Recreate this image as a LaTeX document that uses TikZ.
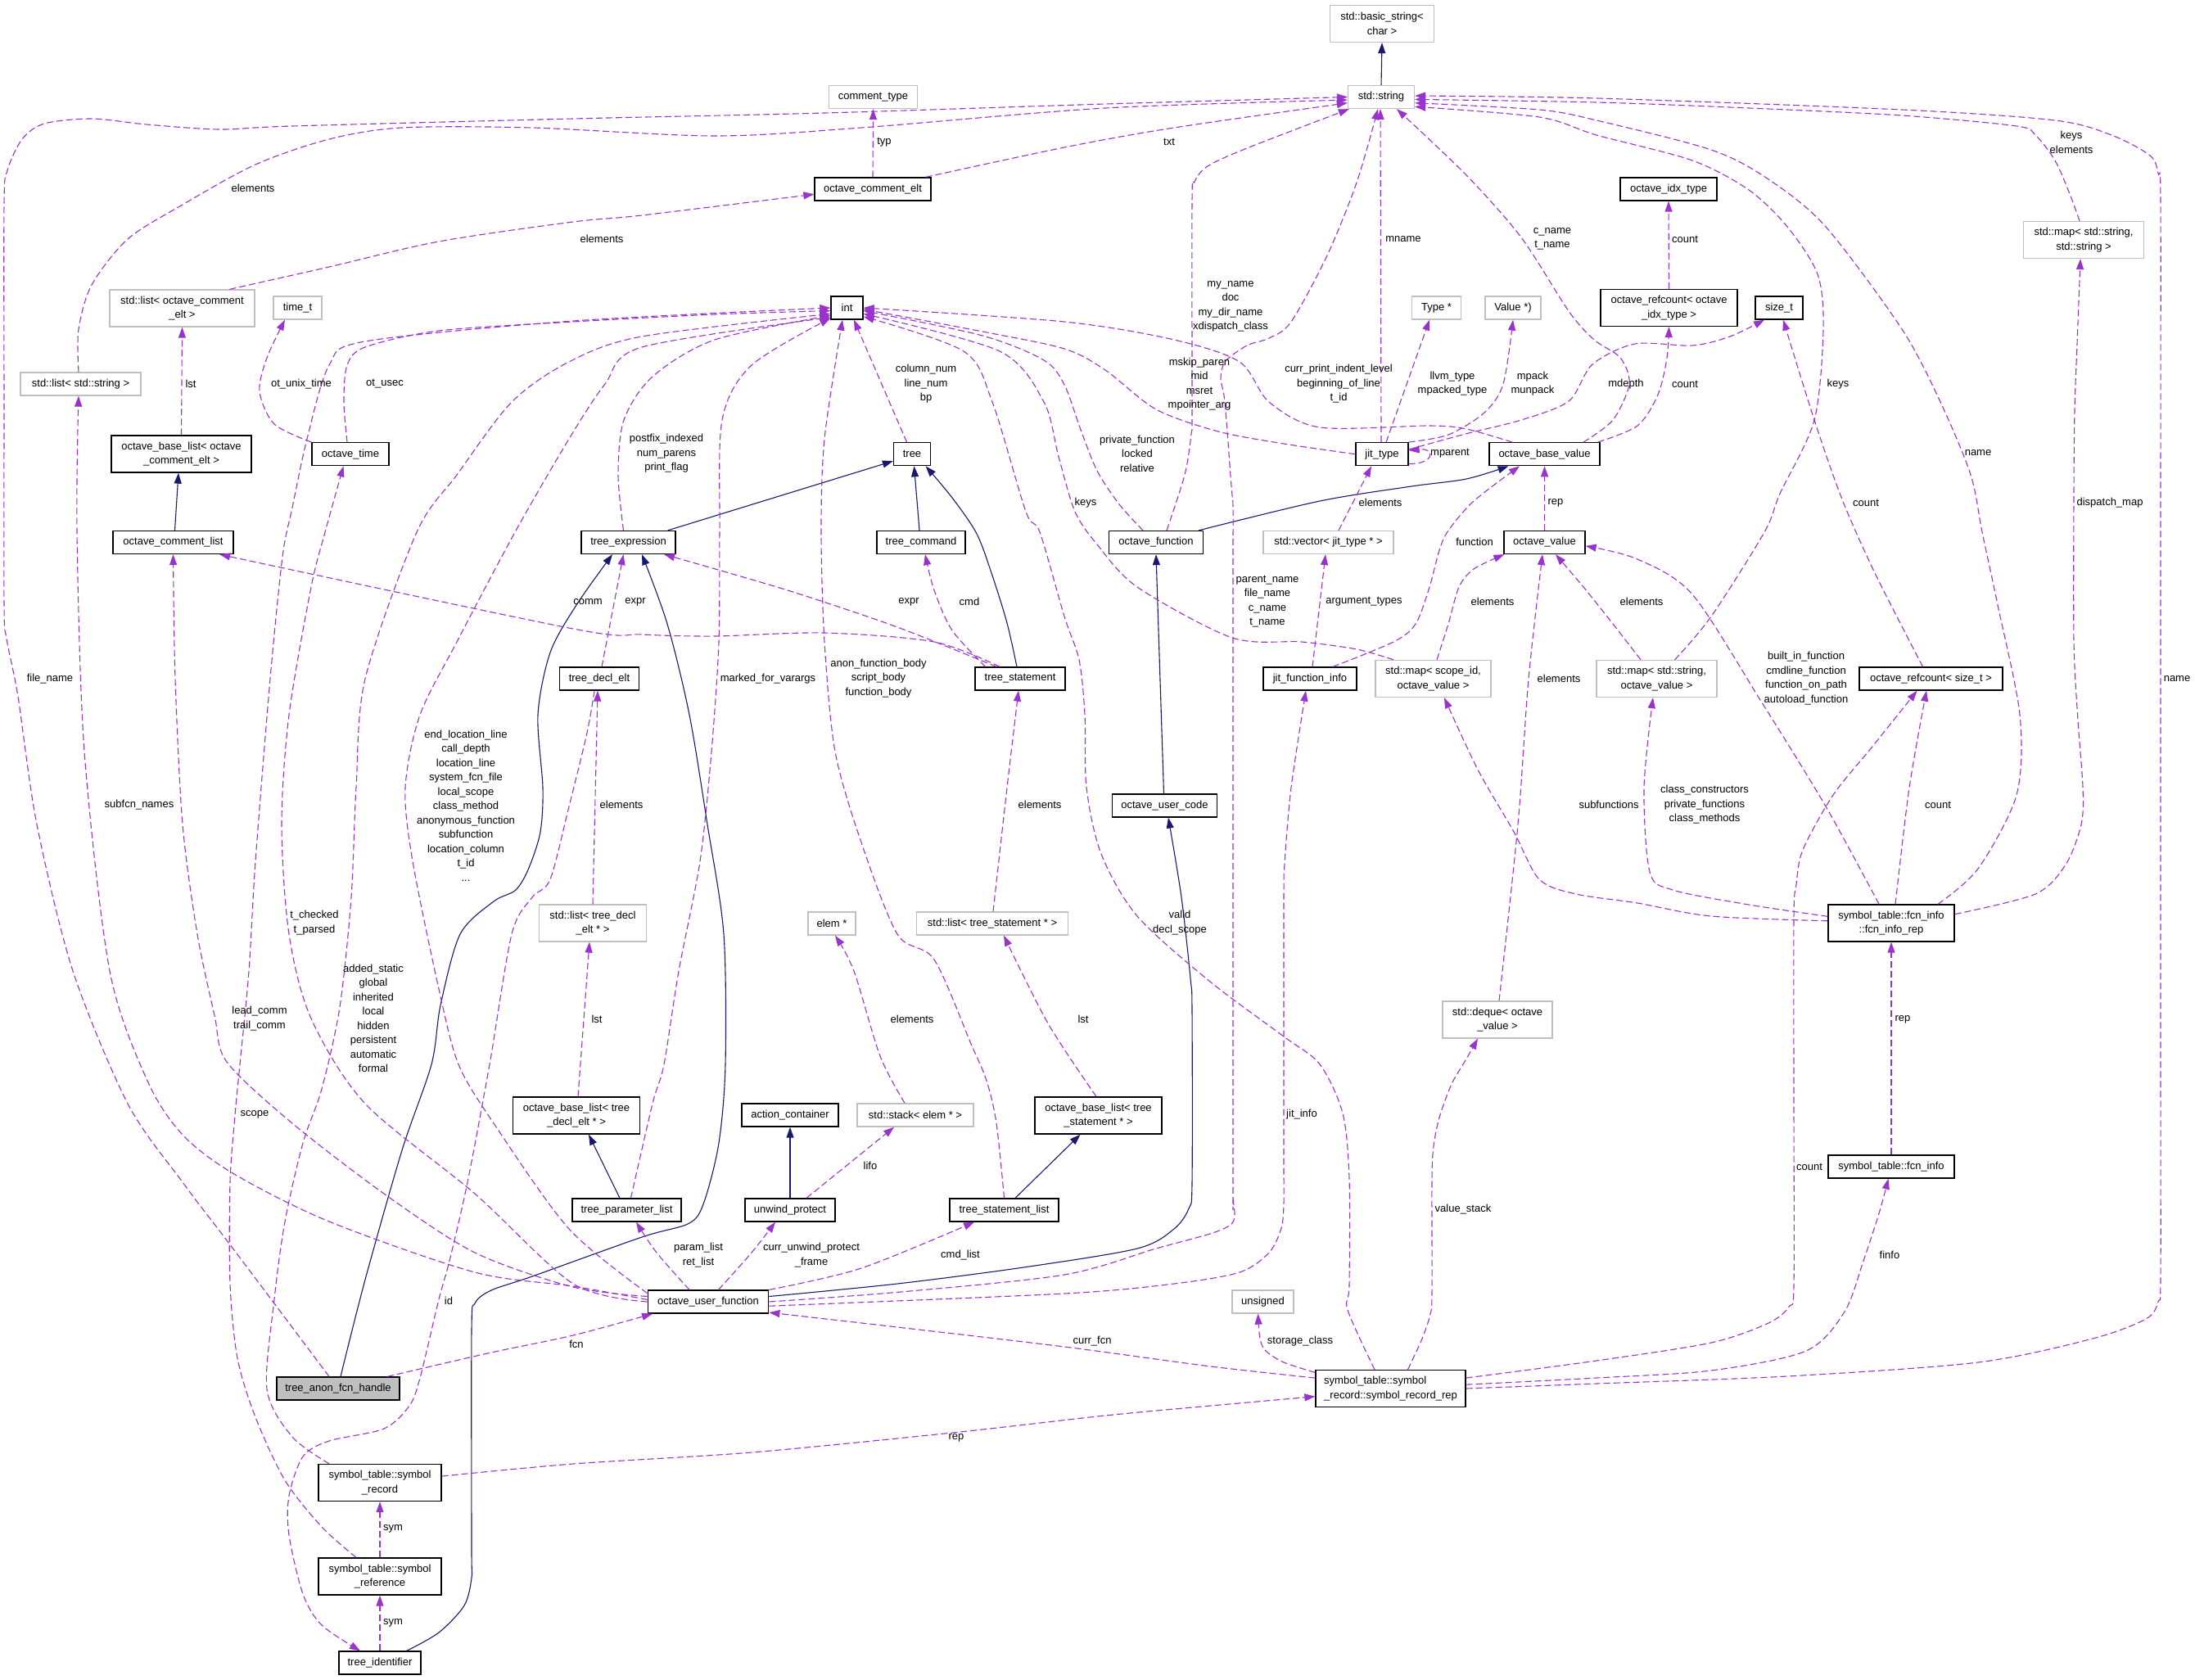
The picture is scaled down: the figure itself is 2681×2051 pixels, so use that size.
\documentclass[tikz,border=0pt]{standalone}
\usepackage{fontspec}
\newfontfamily\dxfont{Liberation Sans}
\usetikzlibrary{arrows.meta}
\definecolor{purp}{HTML}{9A32CD}
\definecolor{navyc}{HTML}{191970}
\definecolor{graybd}{HTML}{BFBFBF}
\newcommand{\dxsize}{\dxfont\fontsize{13}{17.5}\selectfont}
\begin{document}
\begin{tikzpicture}[x=1pt,y=-1pt,
  cls/.style={draw=black,line width=1.3pt,fill=white,inner sep=0pt,font=\dxsize,align=center,minimum height=28pt},
  ext/.style={cls,draw=graybd},
  twol/.style={minimum height=45pt},
  lab/.style={inner sep=0pt,font=\dxsize,align=center},
  dep/.style={draw=purp,line width=1.1pt,dash pattern=on 8pt off 4pt,-{Triangle[length=13pt,width=9pt]}},
  inh/.style={draw=navyc,line width=1.1pt,-{Triangle[length=13pt,width=9pt]}},
  sm/.style={smooth,tension=0.5}]
\fill[white] (0,0) rectangle (2681,2051);
\useasboundingbox (0,0) rectangle (2681,2051);

% ---------------- nodes ----------------
\node[ext,twol,minimum width=127pt] (bstr) at (1688,29) {std::basic\_string<\\char >};
\node[ext,minimum width=81pt] (str) at (1687,118.5) {std::string};
\node[ext,minimum width=108pt] (ctype) at (1066.5,118.5) {comment\_type};
\node[cls,minimum width=142pt] (oce) at (1066,231) {octave\_comment\_elt};
\node[cls,minimum width=118pt] (oidx) at (2038,231) {octave\_idx\_type};
\node[ext,twol,minimum width=147pt] (mapss) at (2545,293) {std::map< std::string,\\std::string >};
\node[ext,twol,minimum width=177pt] (listoce) at (222.5,376.5) {std::list< octave\_comment\\\_elt >};
\node[ext,minimum width=59pt] (timet) at (363.5,376) {time\_t};
\node[cls,minimum width=39pt] (int) at (1034.5,376) {int};
\node[ext,minimum width=60pt] (typeptr) at (1754.5,376) {Type *};
\node[ext,minimum width=68pt] (valueptr) at (1848,376) {Value *)};
\node[cls,twol,minimum width=167pt] (rcidx) at (2038.5,376) {octave\_refcount< octave\\\_idx\_type >};
\node[cls,minimum width=58pt] (sizet) at (2173,376) {size\_t};
\node[ext,minimum width=147pt] (liststr) at (98.5,469) {std::list< std::string >};
\node[cls,twol,minimum width=171pt] (oblce) at (221.5,554.5) {octave\_base\_list< octave\\\_comment\_elt >};
\node[cls,minimum width=94pt] (otime) at (428,554.7) {octave\_time};
\node[cls,minimum width=45pt] (tree) at (1114,554.7) {tree};
\node[cls,minimum width=64pt] (jittype) at (1688,554.7) {jit\_type};
\node[cls,minimum width=135pt] (obv) at (1886.5,554.7) {octave\_base\_value};
\node[cls,minimum width=147pt] (ocl) at (211.5,662.5) {octave\_comment\_list};
\node[cls,minimum width=115pt] (texpr) at (767.5,662.5) {tree\_expression};
\node[cls,minimum width=108pt] (tcmd) at (1125,662.5) {tree\_command};
\node[cls,minimum width=115pt] (ofn) at (1412,662.5) {octave\_function};
\node[ext,minimum width=159pt] (vecjit) at (1622.5,662.5) {std::vector< jit\_type * >};
\node[cls,minimum width=99pt] (oval) at (1886.5,662.5) {octave\_value};
\node[cls,minimum width=97pt] (tdecl) at (732,829) {tree\_decl\_elt};
\node[cls,minimum width=110pt] (tstmt) at (1246,829) {tree\_statement};
\node[cls,minimum width=114pt] (jfi) at (1600,829) {jit\_function\_info};
\node[ext,twol,minimum width=141pt] (mapsid) at (1750.5,829) {std::map< scope\_id,\\octave\_value >};
\node[ext,twol,minimum width=147pt] (mapsov) at (2023.5,829) {std::map< std::string,\\octave\_value >};
\node[cls,minimum width=175pt] (rcsz) at (2358.5,829) {octave\_refcount< size\_t >};
\node[cls,minimum width=128pt] (ouc) at (1422.5,984) {octave\_user\_code};
\node[ext,twol,minimum width=131pt] (listdecl) at (724,1127.5) {std::list< tree\_decl\\\_elt * >};
\node[ext,minimum width=58pt] (elem) at (1016,1128) {elem *};
\node[ext,minimum width=185pt] (liststmt) at (1212,1128) {std::list< tree\_statement * >};
\node[cls,twol,minimum width=154pt] (fir) at (2310,1127.5) {symbol\_table::fcn\_info\\::fcn\_info\_rep};
\node[ext,twol,minimum width=134pt] (deque) at (1829,1245.5) {std::deque< octave\\\_value >};
\node[cls,twol,minimum width=155pt] (obldecl) at (704,1362.5) {octave\_base\_list< tree\\\_decl\_elt * >};
\node[cls,minimum width=118pt] (actc) at (965,1362) {action\_container};
\node[ext,minimum width=142pt] (stack) at (1118,1362) {std::stack< elem * >};
\node[cls,twol,minimum width=155pt] (oblstmt) at (1341.5,1362.5) {octave\_base\_list< tree\\\_statement * >};
\node[cls,minimum width=154pt] (finfo) at (2310,1425) {symbol\_table::fcn\_info};
\node[cls,minimum width=133pt] (tpl) at (765.5,1478) {tree\_parameter\_list};
\node[cls,minimum width=110pt] (unwp) at (965,1478) {unwind\_protect};
\node[cls,minimum width=133pt] (tsl) at (1226.5,1478) {tree\_statement\_list};
\node[cls,minimum width=147.5pt] (ouf) at (865,1590) {octave\_user\_function};
\node[ext,minimum width=75pt] (unsig) at (1542.5,1590) {unsigned};
\node[cls,fill=graybd,minimum width=150pt] (tafh) at (413,1696) {tree\_anon\_fcn\_handle};
\node[cls,twol,minimum width=183pt,align=left] (srr) at (1698.5,1696) {symbol\_table::symbol\\\_record::symbol\_record\_rep};
\node[cls,twol,minimum width=150pt] (srec) at (464,1811) {symbol\_table::symbol\\\_record};
\node[cls,twol,minimum width=150pt] (sref) at (464,1925.5) {symbol\_table::symbol\\\_reference};
\node[cls,minimum width=100pt] (tid) at (464,2031) {tree\_identifier};

% ---------------- inheritance (navy) ----------------
\draw[inh] (str.north) -- (bstr.south);
\draw[inh] ([xshift=2pt]ocl.north) -- ([xshift=-3.5pt]oblce.south);
\draw[inh] ([xshift=-10pt]texpr.north east) -- (tree.200);
\draw[inh] ([xshift=-2pt]tcmd.north) -- ([xshift=2.5pt]tree.south);
\draw[inh] plot[sm] coordinates {([xshift=-4pt]tstmt.north) (1230,761) (1212,703) (1193,652) (1163,608) ([xshift=-6.5pt]tree.south east)};
\draw[inh] plot[sm] coordinates {([xshift=-6pt]ofn.north east) (1612,612) (1724,594) (1791,585) ([xshift=-44pt]obv.south)};
\draw[inh] ([xshift=-1pt]ouc.north) -- (ofn.south);
\draw[inh] plot[sm] coordinates {(ouf.5) (1096,1568) (1250,1548) (1389,1525) (1434,1501) (1452,1476) (1456,1445) (1456,1235) (1454,1195) (1443,1096) ([xshift=4.5pt]ouc.south)};
\draw[inh] (unwp.north) -- (actc.south);
\draw[inh] ([xshift=-8.5pt]tpl.north) -- ([xshift=15pt]obldecl.south);
\draw[inh] ([xshift=13.5pt]tsl.north) -- ([xshift=-22pt]oblstmt.south);
\draw[inh] plot[sm] coordinates {([xshift=3pt]tafh.north) (446,1563) (491,1405) (527,1300) (538,1228) (562,1141) (603,1101) (630,1087) (646,1060) (660,1016) (663,962) (657,873) (672,797) (704,739) ([xshift=-19.5pt]texpr.south)};
\draw[inh] plot[sm] coordinates {([xshift=-18pt]tid.north east) (536,1994) (567,1961) (576,1927) (576,1890) (576,1625) (580,1592) (600,1576) (650,1559) (784,1511) (842,1494) (860,1468) (878,1396) (886,1300) (884,1141) (864,1007) (842,873) (815,762) ([xshift=16.5pt]texpr.south)};

% ---------------- usage (purple dashed) ----------------
\draw[dep] plot[sm] coordinates {([xshift=-7pt]oce.north east) (1300,180) (1434,156) (str.190)};
\draw[dep] (oce.north) -- (ctype.south);
\draw[dep] plot[sm] coordinates {([xshift=58pt]listoce.north) (402,326) (536,295) (700,271) (784,263) (oce.185)};
\draw[dep] plot[sm] coordinates {([xshift=-2.5pt]liststr.north) (96,402) (112,348) (156,292) (223,250) (312,201) (402,170) (491,156) (650,156) (873,166) (1052,156) (1350,132) (str.185)};
\draw[dep] (oblce.north) -- (listoce.south);
\draw[dep] plot[sm] coordinates {(otime.north west) (335,518) (317,478) (326,437) ([xshift=-15.5pt]timet.south)};
\draw[dep] plot[sm] coordinates {([xshift=-4pt]otime.north) (420,491) (424,446) (446,424) (536,404) (700,393) (873,384) (int.190)};
\draw[dep] ([xshift=-6.5pt]tree.north) -- ([xshift=8.5pt]int.south);
\draw[dep] plot[sm] coordinates {([xshift=-6pt]texpr.north) (755,580) (762,513) (797,460) (873,415) (int.205)};
\draw[dep] plot[sm] coordinates {([xshift=-16pt]ofn.north) (1367,616) (1340,575) (1320,525) (1300,470) (1275,440) (1200,410) (int.-10)};
\draw[dep] plot[sm] coordinates {([xshift=13pt]ofn.north) (1447,580) (1455,530) (1456,500) (1456,245) (1459,222) (1475,203) (1523,181) ([xshift=2pt]str.south west)};
\draw[dep] ([xshift=-1pt]jittype.north) -- ([xshift=-1pt]str.south);
\draw[dep] plot[sm] coordinates {(jittype.west) (1568,542) (1488,527) (1412,500) (1350,452) (1300,426) (1200,405) (int.-5)};
\draw[dep] plot[sm] coordinates {([xshift=-39.5pt]obv.north) (1791,524) (1746,520) (1612,522) (1550,491) (1514,442) (1434,415) (1300,393) (int.east)};
\draw[dep] plot[sm] coordinates {([xshift=47.5pt]obv.north) (1970,513) (1990,469) (1979,437) (1947,415) (1916,380) (1858,290) (1791,214) ([xshift=19pt]str.south)};
\draw[dep] plot[sm] coordinates {(jittype.10) (1790,530) (1858,513) (1916,490) (1945,445) (1997,420) (2067,422) (2113,411) ([xshift=-18pt]sizet.south)};
\draw[dep] plot[sm] coordinates {([xshift=65pt]obv.north) (2000,520) (2025,482) (2036,437) (rcidx.south)};
\draw[dep] (rcidx.north) -- (oidx.south);
\draw[dep] ([xshift=5pt]jittype.north) -- ([xshift=-8.5pt]typeptr.south);
\draw[dep] plot[sm] coordinates {(jittype.north east) (1769,531) (1813,504) (1836,469) (valueptr.south)};
\draw[dep] (jittype.-20) .. controls (1752,567) and (1754,547) .. (jittype.8);
\draw[dep] ([xshift=12.5pt]vecjit.north) -- ([xshift=-13pt]jittype.south);
\draw[dep] (oval.north) -- (obv.south);
\draw[dep] plot[sm] coordinates {([xshift=28pt]jfi.north) (1702,784) (1729,762) (1746,717) (1758,672) (1769,648) (1800,612) ([xshift=-30.5pt]obv.south)};
\draw[dep] ([xshift=3pt]jfi.north) -- ([xshift=-3.5pt]vecjit.south);
\draw[dep] plot[sm] coordinates {([xshift=4.5pt]mapsid.north) (1769,762) (1782,717) (1800,695) ([xshift=1pt]oval.south west)};
\draw[dep] plot[sm] coordinates {([xshift=-48.5pt]mapsid.north) (1657,793) (1590,784) (1505,779) (1389,717) (1340,665) (1313,625) (1293,558) (1275,491) (1221,429) (int.-20)};
\draw[dep] plot[sm] coordinates {([xshift=-19.5pt]mapsov.north) (1970,762) (1934,717) ([xshift=13.5pt]oval.south)};
\draw[dep] plot[sm] coordinates {([xshift=22pt]mapsov.north) (2090,753) (2155,650) (2174,603) (2216,513) (2227,402) (2220,335) (2183,277) (2136,232) (2067,196) (1950,165) (1880,143) (str.-16)};
\draw[dep] plot[sm] coordinates {([xshift=2pt]deque.north) (1854,1007) (1867,829) ([xshift=-2.5pt]oval.south)};
\draw[dep] plot[sm] coordinates {([xshift=-15pt]fir.north) (2230,985) (2150,855) (2067,726) (2000,683) (oval.-5)};
\draw[dep] plot[sm] coordinates {(fir.178) (2090,1119) (2000,1103) (1925,1092) (1880,1074) (1849,1016) (1805,940) ([xshift=13.5pt]mapsid.south)};
\draw[dep] plot[sm] coordinates {(fir.174) (2136,1105) (2043,1087) (2015,1065) (2008,962) ([xshift=-4.5pt]mapsov.south)};
\draw[dep] plot[sm] coordinates {([xshift=5pt]fir.north) (2332,962) ([xshift=-5.5pt]rcsz.south)};
\draw[dep] plot[sm] coordinates {([xshift=57pt]fir.north) (2416,1061) (2463,971) (2467,873) (2440,739) (2421,650) (2407,580) (2370,491) (2323,402) (2230,277) (2160,219) (2090,183) (1950,147) (1880,134) (str.-10)};
\draw[dep] plot[sm] coordinates {(fir.8) (2486,1092) (2523,1056) (2542,1007) (2544,962) (2538,880) (2533,784) (2533,600) (2534,500) (2537,420) ([xshift=-4pt]mapss.south)};
\draw[dep] plot[sm] coordinates {([xshift=-10pt]rcsz.north) (2290,700) (2250,610) (2216,513) ([xshift=5pt]sizet.south)};
\draw[dep] plot[sm] coordinates {([xshift=-5pt]mapss.north) (2528,237) (2510,196) (2486,165) (2463,154) (2323,141) (2136,132) (1950,125) (str.-4)};
\draw[dep] plot[sm] coordinates {(srr.east) (1950,1690) (2183,1681) (2416,1664) (2556,1635) (2621,1611) (2636,1590) (2639,1560) (2639,1300) (2639,600) (2639,245) (2636,212) (2626,190) (2579,165) (2510,147) (2323,134) (1950,120) (str.2)};
\draw[dep] plot[sm] coordinates {(srr.8) (1950,1662) (2090,1640) (2160,1616) (2185,1596) (2191,1570) (2191,1350) (2191,1120) (2194,1080) (2202,1038) (2239,971) (2286,913) ([xshift=-17pt]rcsz.south)};
\draw[dep] plot[sm] coordinates {(srr.3) (1950,1683) (2090,1674) (2206,1650) (2253,1602) (2276,1540) (2295,1482) ([xshift=-3.5pt]finfo.south)};
\draw[dep] (finfo.north) -- (fir.south);
\draw[dep] plot[sm] coordinates {(srr.168) (1568,1664) (1546,1650) (1539,1635) ([xshift=-6pt]unsig.south)};
\draw[dep] plot[sm] coordinates {([xshift=21pt]srr.north) (1737,1635) (1747,1605) (1749,1580) (1749,1440) (1751,1400) (1758,1365) (1773,1324) (1790,1295) ([xshift=-24pt]deque.south)};
\draw[dep] plot[sm] coordinates {(srr.172) (1479,1669) (1300,1645) (1096,1621) (ouf.-10)};
\draw[dep] plot[sm] coordinates {(srec.6) (700,1788) (918,1774) (1163,1750) (1350,1729) (1479,1717) (srr.186)};
\draw[dep] (sref.north) -- (srec.south);
\draw[dep] (tid.north) -- (sref.south);
\draw[dep] plot[sm] coordinates {([xshift=-6pt]tdecl.south) (717,895) (695,985) (672,1074) (650,1096) (625,1141) (598,1300) (571,1444) (549,1540) (536,1587) (513,1683) (500,1717) (469,1745) (402,1760) (370,1779) (353,1827) (353,1875) (370,1947) (393,1985) ([xshift=-24pt]tid.north)};
\draw[dep] (listdecl.north) -- ([xshift=-2pt]tdecl.south);
\draw[dep] ([xshift=2pt]obldecl.north) -- ([xshift=-4pt]listdecl.south);
\draw[dep] ([xshift=3pt]tdecl.north) -- ([xshift=-6pt]texpr.south);
\draw[dep] plot[sm] coordinates {([xshift=-29pt]tstmt.north) (1096,766) (962,721) ([xshift=-14.5pt]texpr.south east)};
\draw[dep] plot[sm] coordinates {([xshift=-42.5pt]tstmt.north) (1163,770) (1141,721) ([xshift=5pt]tcmd.south)};
\draw[dep] plot[sm] coordinates {([xshift=-25pt]tstmt.north) (1141,784) (1007,773) (873,777) (784,775) (700,768) ([xshift=-17.5pt]ocl.south east)};
\draw[dep] plot[sm] coordinates {([xshift=1pt]liststmt.north) (1230,962) ([xshift=-2pt]tstmt.south)};
\draw[dep] plot[sm] coordinates {([xshift=-2.5pt]oblstmt.north) (1280,1250) ([xshift=14pt]liststmt.south)};
\draw[dep] plot[sm] coordinates {(tsl.north) (1217,1372) (1205,1320) (1186,1275) (1141,1172) (1096,1141) (1052,1029) (1020,918) (1007,784) (1003,650) (1007,536) ([xshift=-5.5pt]int.south)};
\draw[dep] plot[sm] coordinates {([xshift=5pt]tpl.north) (797,1348) (811,1300) (829,1186) (855,1052) (869,918) (878,784) (879,650) (882,513) (918,446) (int.212)};
\draw[dep] ([xshift=20pt]unwp.north) -- ([xshift=-26pt]stack.south);
\draw[dep] plot[sm] coordinates {([xshift=-13pt]stack.north) (1075,1290) (1043,1186) ([xshift=4pt]elem.south)};
\draw[dep] plot[sm] coordinates {([xshift=-23pt]ouf.north) (802,1530) ([xshift=11.5pt]tpl.south)};
\draw[dep] plot[sm] coordinates {([xshift=12.5pt]ouf.north) (918,1530) ([xshift=-18pt]unwp.south)};
\draw[dep] plot[sm] coordinates {(ouf.north east) (1052,1549) ([xshift=-36.5pt]tsl.south)};
\draw[dep] plot[sm] coordinates {(ouf.0) (1100,1578) (1300,1557) (1412,1525) (1478,1507) (1503,1496) (1508,1484) (1506,1462) (1506,1420) (1506,700) (1506,620) (1504,594) (1496,491) (1491,462) (1497,441) (1523,422) (1550,413) (1577,393) (1621,312) (1657,223) ([xshift=-4pt]str.south)};
\draw[dep] plot[sm] coordinates {(ouf.-4) (1300,1580) (1434,1568) (1514,1554) (1550,1530) (1565,1500) (1568,1470) (1568,1420) (1568,1100) (1569,1055) (1577,962) ([xshift=-5pt]jfi.south)};
\draw[dep] plot[sm] coordinates {(ouf.175) (700,1572) (580,1530) (469,1458) (357,1372) (277,1297) (262,1240) (241,1141) (223,1007) (214,829) (ocl.south)};
\draw[dep] plot[sm] coordinates {(ouf.178) (700,1571) (580,1554) (402,1492) (286,1434) (223,1386) (180,1320) (134,1186) (103,918) (94,650) ([xshift=-2.5pt]liststr.south)};
\draw[dep] plot[sm] coordinates {(ouf.west) (700,1568) (580,1458) (446,1348) (380,1244) (353,1141) (344,1007) (353,873) (380,717) (397,650) ([xshift=-8.5pt]otime.south)};
\draw[dep] plot[sm] coordinates {(ouf.172) (695,1501) (603,1372) (560,1300) (536,1208) (504,1052) (495,962) (513,873) (558,784) (629,650) (695,536) (739,469) (784,424) (int.210)};
\draw[dep] plot[sm] coordinates {([xshift=-62pt]srec.north) (357,1755) (326,1697) (335,1587) (348,1492) (370,1396) (393,1330) (415,1230) (429,1096) (435,962) (446,829) (509,650) (558,580) (625,491) (695,442) (784,411) (int.200)};
\draw[dep] plot[sm] coordinates {([xshift=-29pt]sref.north) (393,1865) (348,1808) (312,1731) (290,1659) (281,1568) (281,1444) (287,1362) (293,1300) (304,1186) (312,1052) (330,829) (345,680) (357,620) (375,536) (402,446) (446,417) (700,392) (int.west)};
\draw[dep] plot[sm] coordinates {([xshift=60pt]tafh.north) (600,1652) (700,1631) ([xshift=-68pt]ouf.south)};
\draw[dep] plot[sm] coordinates {([xshift=-11pt]tafh.north) (335,1592) (277,1515) (223,1444) (156,1348) (89,1186) (45,1007) (22,851) (8,780) (5,740) (5,500) (5,250) (9,208) (27,170) (54,151) (112,145) (179,152) (268,158) (357,154) (700,145) (1007,138) (1350,127) (str.west)};
\draw[dep] plot[sm] coordinates {([xshift=-19.5pt]srr.north) (1646,1600) (1648,1570) (1648,1440) (1640,1360) (1612,1300) (1568,1266) (1478,1199) (1389,1119) (1345,1043) (1327,962) (1325,873) (1318,806) (1300,753) (1270,650) (1253,625) (1212,491) (1177,429) (int.-28)};

% ---------------- labels ----------------
\node[lab] (l01) at (1428,173) {txt};
\node[lab] (l02) at (1080,174) {typ};
\node[lab] (l03) at (735,292) {elements};
\node[lab] (l04) at (309,230) {elements};
\node[lab] (l05) at (233,469) {lst};
\node[lab] (l06) at (368,469) {ot\_unix\_time};
\node[lab] (l07) at (470,469) {ot\_usec};
\node[lab] (l08) at (1131,469) {column\_num\\line\_num\\bp};
\node[lab] (l09) at (814,554) {postfix\_indexed\\num\_parens\\print\_flag};
\node[lab] (l10) at (1389,554) {private\_function\\locked\\relative};
\node[lab] (l11) at (1503,374.5) {my\_name\\doc\\my\_dir\_name\\xdispatch\_class};
\node[lab] (l12) at (1465,469) {mskip\_paren\\mid\\msret\\mpointer\_arg};
\node[lab] (l13) at (1635,469) {curr\_print\_indent\_level\\beginning\_of\_line\\t\_id};
\node[lab] (l14) at (1714,292) {mname};
\node[lab] (l15) at (1774,468.5) {llvm\_type\\mpacked\_type};
\node[lab] (l16) at (1872,468.5) {mpack\\munpack};
\node[lab] (l17) at (1771,554) {mparent};
\node[lab] (l18) at (1896,292) {c\_name\\t\_name};
\node[lab] (l19) at (2058,292) {count};
\node[lab] (l20) at (2058,469) {count};
\node[lab] (l21) at (1986,469) {mdepth};
\node[lab] (l22) at (2245,469) {keys};
\node[lab] (l23) at (2416,553) {name};
\node[lab] (l24) at (2279,614) {count};
\node[lab] (l25) at (2577,614) {dispatch\_map};
\node[lab] (l26) at (2530,174) {keys\\elements};
\node[lab] (l27) at (1326,614) {keys};
\node[lab] (l28) at (1686,614) {elements};
\node[lab] (l29) at (1900,614) {rep};
\node[lab] (l30) at (1801,662) {function};
\node[lab] (l31) at (61,829) {file\_name};
\node[lab] (l32) at (170,983) {subfcn\_names};
\node[lab] (l33) at (569,984) {end\_location\_line\\call\_depth\\location\_line\\system\_fcn\_file\\local\_scope\\class\_method\\anonymous\_function\\subfunction\\location\_column\\t\_id\\...};
\node[lab] (l34) at (384,1127) {t\_checked\\t\_parsed};
\node[lab] (l35) at (456,1244) {added\_static\\global\\inherited\\local\\hidden\\persistent\\automatic\\formal};
\node[lab] (l36) at (317,1244) {lead\_comm\\trail\_comm};
\node[lab] (l37) at (311,1361) {scope};
\node[lab] (l38) at (548,1589) {id};
\node[lab] (l39) at (480,1867) {sym};
\node[lab] (l40) at (480,1982) {sym};
\node[lab] (l41) at (704,1642) {fcn};
\node[lab] (l42) at (718,735) {comm};
\node[lab] (l43) at (776,735) {expr};
\node[lab] (l44) at (1110,735) {expr};
\node[lab] (l45) at (1184,735) {cmd};
\node[lab] (l46) at (759,983) {elements};
\node[lab] (l47) at (1270,983) {elements};
\node[lab] (l48) at (938,829) {marked\_for\_varargs};
\node[lab] (l49) at (1073,828.6) {anon\_function\_body\\script\_body\\function\_body};
\node[lab] (l50) at (729,1245) {lst};
\node[lab] (l51) at (1323,1245) {lst};
\node[lab] (l52) at (1114,1245) {elements};
\node[lab] (l53) at (1063,1424) {lifo};
\node[lab] (l54) at (853,1533) {param\_list\\ret\_list};
\node[lab] (l55) at (991,1533) {curr\_unwind\_protect\\\_frame};
\node[lab] (l56) at (1173,1533) {cmd\_list};
\node[lab] (l57) at (1548,734.5) {parent\_name\\file\_name\\c\_name\\t\_name};
\node[lab] (l58) at (1666,735) {argument\_types};
\node[lab] (l59) at (1823,735) {elements};
\node[lab] (l60) at (2005,735) {elements};
\node[lab] (l61) at (1904,829) {elements};
\node[lab] (l62) at (1441,1127) {valid\\decl\_scope};
\node[lab] (l63) at (1965,983) {subfunctions};
\node[lab] (l64) at (2082,983) {class\_constructors\\private\_functions\\class\_methods};
\node[lab] (l65) at (2206,828.6) {built\_in\_function\\cmdline\_function\\function\_on\_path\\autoload\_function};
\node[lab] (l66) at (2367,983) {count};
\node[lab] (l67) at (2659,829) {name};
\node[lab] (l68) at (2324,1245) {rep};
\node[lab] (l69) at (1590,1361) {jit\_info};
\node[lab] (l70) at (1787,1477) {value\_stack};
\node[lab] (l71) at (1588,1638) {storage\_class};
\node[lab] (l72) at (1334,1638) {curr\_fcn};
\node[lab] (l73) at (1168,1756) {rep};
\node[lab] (l74) at (2210,1425) {count};
\node[lab] (l75) at (2308,1533) {finfo};
\end{tikzpicture}
\end{document}
